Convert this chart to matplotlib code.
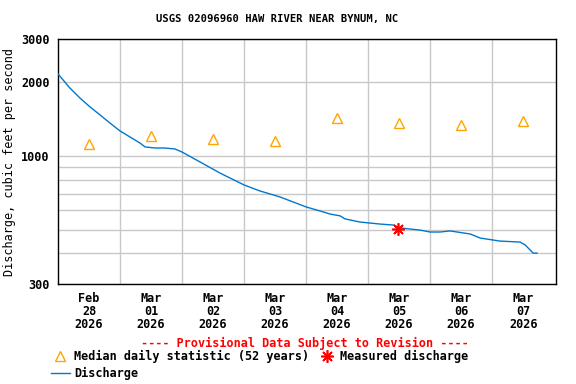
import numpy as np
import matplotlib
matplotlib.use("Agg")
import matplotlib.pyplot as plt
import matplotlib.dates as mdates
from matplotlib.ticker import FixedLocator, NullFormatter, NullLocator
from datetime import datetime, timedelta

# discharge, hours after Feb 28 00:00 and cfs
hours = [0, 4.6, 8.5, 12.4, 16.3, 20.1, 24, 27.9, 31.7, 33.7, 37.5, 41.4, 45.3, 48,
         55, 62.7, 72, 78.2, 85.9, 96, 101.4, 105.3, 109.2, 111.1, 116.9, 124.6, 130,
         132.4, 140.1, 144, 147.9, 151.7, 159.5, 163.4, 171.1, 178.8, 180.8, 182.7,
         183.9, 185.4]
flow = [2160, 1893, 1723, 1584, 1469, 1362, 1264, 1194, 1129, 1088, 1077, 1077, 1067, 1037,
        944, 851, 761, 719, 680, 619, 596, 579, 569, 553, 537, 527, 522,
        508, 498, 489, 489, 494, 480, 462, 449, 445, 433, 413,
        401, 401]

# median daily statistic at noon of each day
median_days = ["2026-02-28", "2026-03-01", "2026-03-02", "2026-03-03",
               "2026-03-04", "2026-03-05", "2026-03-06", "2026-03-07"]
median_vals = [1118, 1205, 1172, 1150, 1428, 1362, 1337, 1388]

# field measurement
meas_time = "2026-03-05 11:30"
meas_val = 503

day_labels = ["Feb\n28\n2026", "Mar\n01\n2026", "Mar\n02\n2026", "Mar\n03\n2026",
              "Mar\n04\n2026", "Mar\n05\n2026", "Mar\n06\n2026", "Mar\n07\n2026"]

t0 = datetime(2026, 2, 28)
times = [t0 + timedelta(hours=h) for h in hours]
med_t = [datetime.strptime(d, "%Y-%m-%d") + timedelta(hours=12) for d in median_days]
m_t = datetime.strptime(meas_time, "%Y-%m-%d %H:%M")

plt.rcParams['font.family'] = ['DejaVu Sans Mono']
plt.rcParams['font.weight'] = 'bold'

fig = plt.figure(figsize=(5.76, 3.84), dpi=100)
ax = fig.add_axes([58/576, 1-284/384, (556-58)/576, (284-39)/384])

ax.plot(times, flow, color='#0077cc', lw=1.0, label='Discharge', zorder=3)
ax.plot(med_t, median_vals, linestyle='none', marker='^', ms=7.5, mfc='none',
        mec='#ffa500', mew=1.0, label='Median daily statistic (52 years)', zorder=4)
ax.plot([m_t], [meas_val], linestyle='none', marker=(8, 2, 0), ms=9, color='red',
        mew=1.2, label='Measured discharge', zorder=5)

ax.set_yscale('log')
ax.set_ylim(300, 3000)
ax.set_xlim(t0, t0 + timedelta(days=8.03))

ax.yaxis.set_major_locator(FixedLocator([300, 1000, 2000, 3000]))
ax.yaxis.set_major_formatter(matplotlib.ticker.FuncFormatter(lambda v, p: "%d" % v))
ax.yaxis.set_minor_locator(FixedLocator([400, 500, 600, 700, 800, 900]))
ax.yaxis.set_minor_formatter(NullFormatter())
ax.grid(True, which='major', axis='y', color='#c8c8c8', lw=1.0)
ax.grid(True, which='minor', axis='y', color='#c8c8c8', lw=1.0)

mids = [t0 + timedelta(days=i) for i in range(1, 8)]
ax.xaxis.set_minor_locator(FixedLocator(mdates.date2num(mids)))
ax.xaxis.grid(True, which='minor', color='#c8c8c8', lw=1.0)
ax.set_xticks(med_t)
ax.set_xticklabels(day_labels, linespacing=0.98)
ax.tick_params(axis='both', which='both', length=0, labelsize=8.5)
ax.tick_params(axis='x', pad=6)
ax.tick_params(axis='y', pad=6)
for s in ax.spines.values():
    s.set_color('black')
    s.set_linewidth(1.0)

ax.set_ylabel('Discharge, cubic feet per second', fontsize=8.5, labelpad=4)
fig.text(277/576, 1-19/384, 'USGS 02096960 HAW RIVER NEAR BYNUM, NC',
         ha='center', va='center', fontsize=7.6, fontweight='bold')
fig.text(305/576, 1-343/384, '---- Provisional Data Subject to Revision ----',
         ha='center', va='center', fontsize=8.5, color='red', fontweight='bold')

h, l = ax.get_legend_handles_labels()
order = [1, 0, 2]
fig.legend([h[i] for i in order], [l[i] for i in order], ncol=2,
           loc='upper left', bbox_to_anchor=(51/576, 1-350/384), frameon=False,
           fontsize=8.5, handlelength=1.6, handletextpad=0.35, columnspacing=0.7,
           labelspacing=0.3, borderaxespad=0, borderpad=0)

fig.savefig('out.png', dpi=100)
